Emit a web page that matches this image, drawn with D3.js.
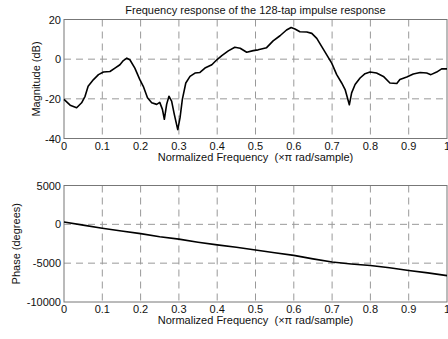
<!DOCTYPE html>
<html>
<head>
<meta charset="utf-8">
<script src="https://cdn.jsdelivr.net/npm/d3@7"></script>
<style>
  body { margin: 0; background: #fff; }
  svg { display: block; }
  text { font-family: "Liberation Sans", Arial, sans-serif; font-size: 11px; fill: #111; }
</style>
</head>
<body>
<svg width="448" height="339"></svg>
<script>
// magnitude response
const magFreq = [0, 0.016, 0.033, 0.046, 0.055, 0.063, 0.077, 0.09, 0.103, 0.12, 0.133, 0.146, 0.155, 0.164, 0.172,
  0.185, 0.198, 0.207, 0.218, 0.229, 0.242, 0.25, 0.257, 0.262, 0.268, 0.274, 0.281, 0.288, 0.297, 0.303, 0.309,
  0.318, 0.329, 0.342, 0.355, 0.368, 0.386, 0.399, 0.412, 0.429, 0.446, 0.46, 0.477, 0.494, 0.507, 0.529, 0.546,
  0.564, 0.581, 0.593, 0.603, 0.616, 0.634, 0.647, 0.66, 0.673, 0.686, 0.699, 0.712, 0.725, 0.734, 0.745, 0.751,
  0.76, 0.773, 0.786, 0.799, 0.816, 0.834, 0.851, 0.869, 0.877, 0.895, 0.912, 0.93, 0.947, 0.958, 0.973, 0.986, 1];
const magDb = [-20.3, -23.2, -24.5, -22, -18.7, -13.7, -10.3, -7.8, -6.5, -6.2, -4.5, -2.8, -0.7, 0.5, -0.3,
  -4.5, -10.3, -13.7, -19.5, -22, -22.8, -21.8, -25.3, -30.3, -22.8, -18.7, -21.2, -27.8, -35.5, -29.5, -20.3,
  -12, -8.7, -7, -6.7, -4.5, -2.8, -0.3, 1.8, 4.2, 6, 5.5, 3.5, 4.3, 4.7, 5.8, 9.2,
  11.8, 14.7, 16, 15.2, 13.8, 13.7, 13, 10.5, 6.3, 2.2, -2, -7.8, -12, -15.3, -23, -17,
  -12.8, -9.5, -7.3, -6.5, -7, -8.7, -12, -12.3, -10.3, -9, -7.5, -6.7, -7, -7.8, -6.5, -4.9, -4.9];

// phase response
const phaseFreq = [0, 0.05, 0.1, 0.15, 0.2, 0.25, 0.3, 0.35, 0.4, 0.45, 0.5, 0.55, 0.6, 0.65, 0.7, 0.75, 0.8, 0.85, 0.9, 0.95, 1];
const phaseDeg = [300, -100, -500, -850, -1200, -1600, -1900, -2300, -2650, -2950, -3300, -3650, -4000, -4450, -4850,
  -5100, -5300, -5600, -5950, -6250, -6600];

const xTicks = [0, 0.1, 0.2, 0.3, 0.4, 0.5, 0.6, 0.7, 0.8, 0.9, 1];
const magTicks = [-40, -20, 0, 20];
const phaseTicks = [-10000, -5000, 0, 5000];

const svg = d3.select("svg");
const left = 64, right = 447;

function panel(top, bottom, yDomain, yTicks, xs, ys, ylabel, ylabelX, title) {
  const x = d3.scaleLinear().domain([0, 1]).range([left, right]);
  const y = d3.scaleLinear().domain(yDomain).range([bottom, top]);
  const g = svg.append("g");

  // dashed grid
  g.selectAll(".vg").data(xTicks.slice(1, -1)).enter().append("line")
    .attr("x1", d => x(d)).attr("x2", d => x(d))
    .attr("y1", top).attr("y2", bottom)
    .attr("stroke", "#999").attr("stroke-dasharray", "7,5");
  g.selectAll(".hg").data(yTicks.slice(1, -1)).enter().append("line")
    .attr("x1", left).attr("x2", right)
    .attr("y1", d => y(d)).attr("y2", d => y(d))
    .attr("stroke", "#999").attr("stroke-dasharray", "7,5");

  // box
  g.append("rect").attr("x", left).attr("y", top)
    .attr("width", right - left).attr("height", bottom - top)
    .attr("fill", "none").attr("stroke", "#777");

  // tick labels
  g.selectAll(".xl").data(xTicks).enter().append("text")
    .attr("x", d => x(d)).attr("y", bottom + 11)
    .attr("text-anchor", "middle").text(d => d);
  g.selectAll(".yl").data(yTicks).enter().append("text")
    .attr("x", left - 3).attr("y", d => y(d) + 4)
    .attr("text-anchor", "end").text(d => d);

  g.append("text").attr("x", (left + right) / 2).attr("y", bottom + 22)
    .attr("text-anchor", "middle").style("white-space", "pre")
    .text("Normalized Frequency  (\u00d7\u03c0 rad/sample)");
  g.append("text").attr("transform", `translate(${ylabelX},${(top + bottom) / 2}) rotate(-90)`)
    .attr("text-anchor", "middle").text(ylabel);
  if (title) {
    g.append("text").attr("x", (left + right) / 2).attr("y", top - 6)
      .attr("text-anchor", "middle").text(title);
  }

  const line = d3.line().x((d, i) => x(xs[i])).y(d => y(d));
  g.append("path").datum(ys).attr("d", line)
    .attr("fill", "none").attr("stroke", "#000").attr("stroke-width", 1.6)
    .attr("stroke-linejoin", "round");
}

panel(19.5, 138.5, [-40, 20], magTicks, magFreq, magDb, "Magnitude (dB)", 40,
  "Frequency response of the 128-tap impulse response");
panel(185.5, 302, [-10000, 5000], phaseTicks, phaseFreq, phaseDeg, "Phase (degrees)", 20, null);
</script>
</body>
</html>
